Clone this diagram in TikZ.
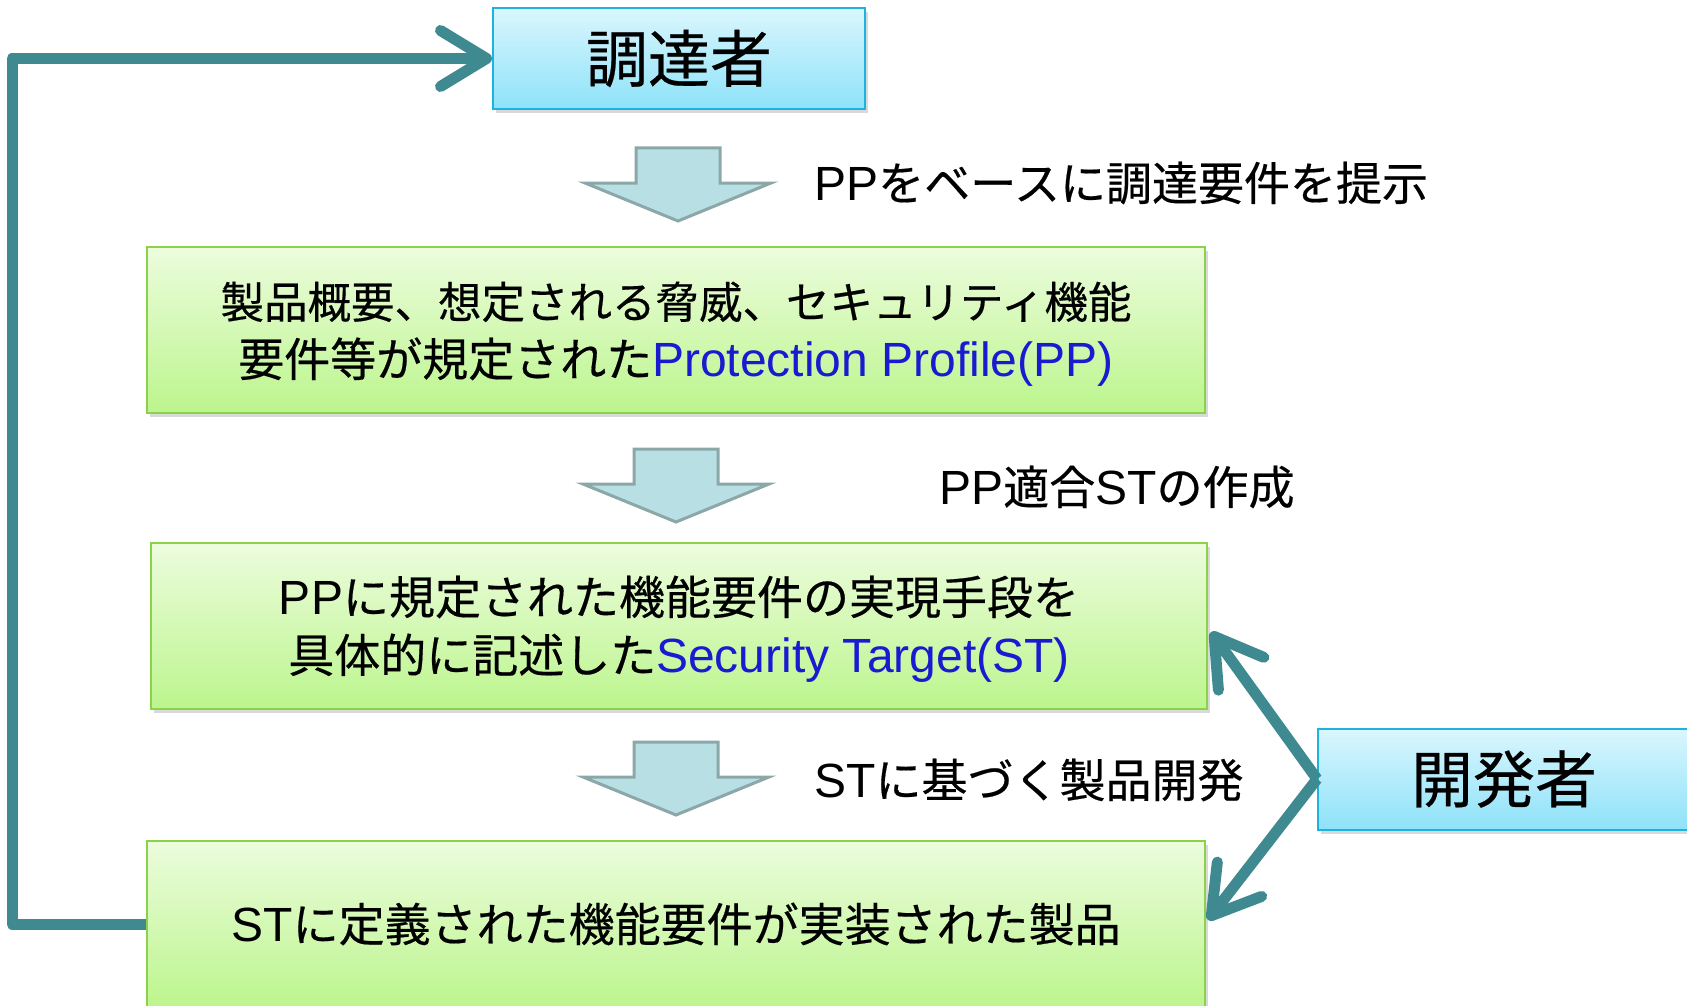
\documentclass[tikz,border=0pt]{standalone}
\usepackage{fontspec}
\setmainfont[FakeBold=0.4]{Noto Sans CJK JP}
\newfontfamily\lat{Liberation Sans}
\usetikzlibrary{arrows.meta,shadows,calc}
\definecolor{teal1}{HTML}{3E8A90}
\definecolor{bluebd}{HTML}{1DB2DF}
\definecolor{bluetop}{HTML}{DAF6FD}
\definecolor{bluebot}{HTML}{8EE2F9}
\definecolor{greenbd}{HTML}{8CD14A}
\definecolor{greentop}{HTML}{ECFCDD}
\definecolor{greenbot}{HTML}{BCF58D}
\definecolor{arrfill}{HTML}{B8DFE3}
\definecolor{arrbd}{HTML}{8CA7A8}
\definecolor{txtblue}{HTML}{1A1AD0}
\newcommand\latin[1]{{\fontsize{48}{58}\selectfont\lat #1}}
\tikzset{
  actor/.style={draw=bluebd, line width=2pt, top color=bluetop, bottom color=bluebot,
    minimum width=372pt, minimum height=101pt, inner sep=0pt,
    font=\fontsize{62}{70}\selectfont,
    drop shadow={shadow xshift=3pt, shadow yshift=-4pt, opacity=0.3}},
  stage/.style={draw=greenbd, line width=2pt, top color=greentop, bottom color=greenbot,
    minimum height=166pt, inner sep=0pt,
    drop shadow={shadow xshift=3pt, shadow yshift=-4pt, opacity=0.3}},
  stagetxt/.style={inner sep=0pt, align=center, font=\fontsize{46}{58}\selectfont},
  lbl/.style={anchor=west, inner sep=0pt, font=\fontsize{46}{52}\selectfont},
  barrow/.style={draw=arrbd, line width=3pt, fill=arrfill, line join=miter},
  conn/.style={draw=teal1, line width=11pt, line join=round,
    -{Straight Barb[length=46pt, width=56pt, line cap=round, line join=round]}},
  pics/downarr/.style={code={
    \draw[barrow] (-42,0) -- (42,0) -- (42,35) -- (93,35) -- (0,73) -- (-93,35) -- (-42,35) -- cycle;}}
}
\begin{document}
\begin{tikzpicture}[x=1pt, y=-1pt]
\useasboundingbox (0,0) rectangle (1687,1006);

\node[actor] (top) at (679,58.5) {調達者};
\node[actor] (dev) at (1504,779) {開発者};

\node[stage, minimum width=1058pt] (box1) at (676,330) {};
\node[stage, minimum width=1056pt] (box2) at (679,626) {};
\node[stage, minimum width=1058pt] (box3) at (676,924) {};

\node[stagetxt] (t1) at ($(box1.center)+(0,4)$)
  {{\fontsize{43.5}{58}\selectfont 製品概要、想定される脅威、セキュリティ機能}\\要件等が規定された\latin{\color{txtblue}Protection Profile(PP)}};
\node[stagetxt] (t2) at ($(box2.center)+(0,3)$)
  {\latin{PP}に規定された機能要件の実現手段を\\具体的に記述した\latin{\color{txtblue}Security Target(ST)}};
\node[stagetxt] (t3) at (box3.center)
  {\latin{ST}に定義された機能要件が実装された製品};

\pic (a1) at (678,148) {downarr};
\pic (a2) at (676,449) {downarr};
\pic (a3) at (676,742) {downarr};

\node[lbl] (l1) at (814,183) {\latin{PP}をベースに調達要件を提示};
\node[lbl] (l2) at (939,487) {\latin{PP}適合\latin{ST}の作成};
\node[lbl] (l3) at (814,780) {\latin{ST}に基づく製品開発};

\draw[conn] (box3.west) -- ++(-134,0) |- (top.west);
\draw[conn] (dev.west) -- ($(box2.east)+(3,6)$);
\draw[conn] (dev.west) -- ($(box3.east)+(2,-4)$);
\end{tikzpicture}
\end{document}
